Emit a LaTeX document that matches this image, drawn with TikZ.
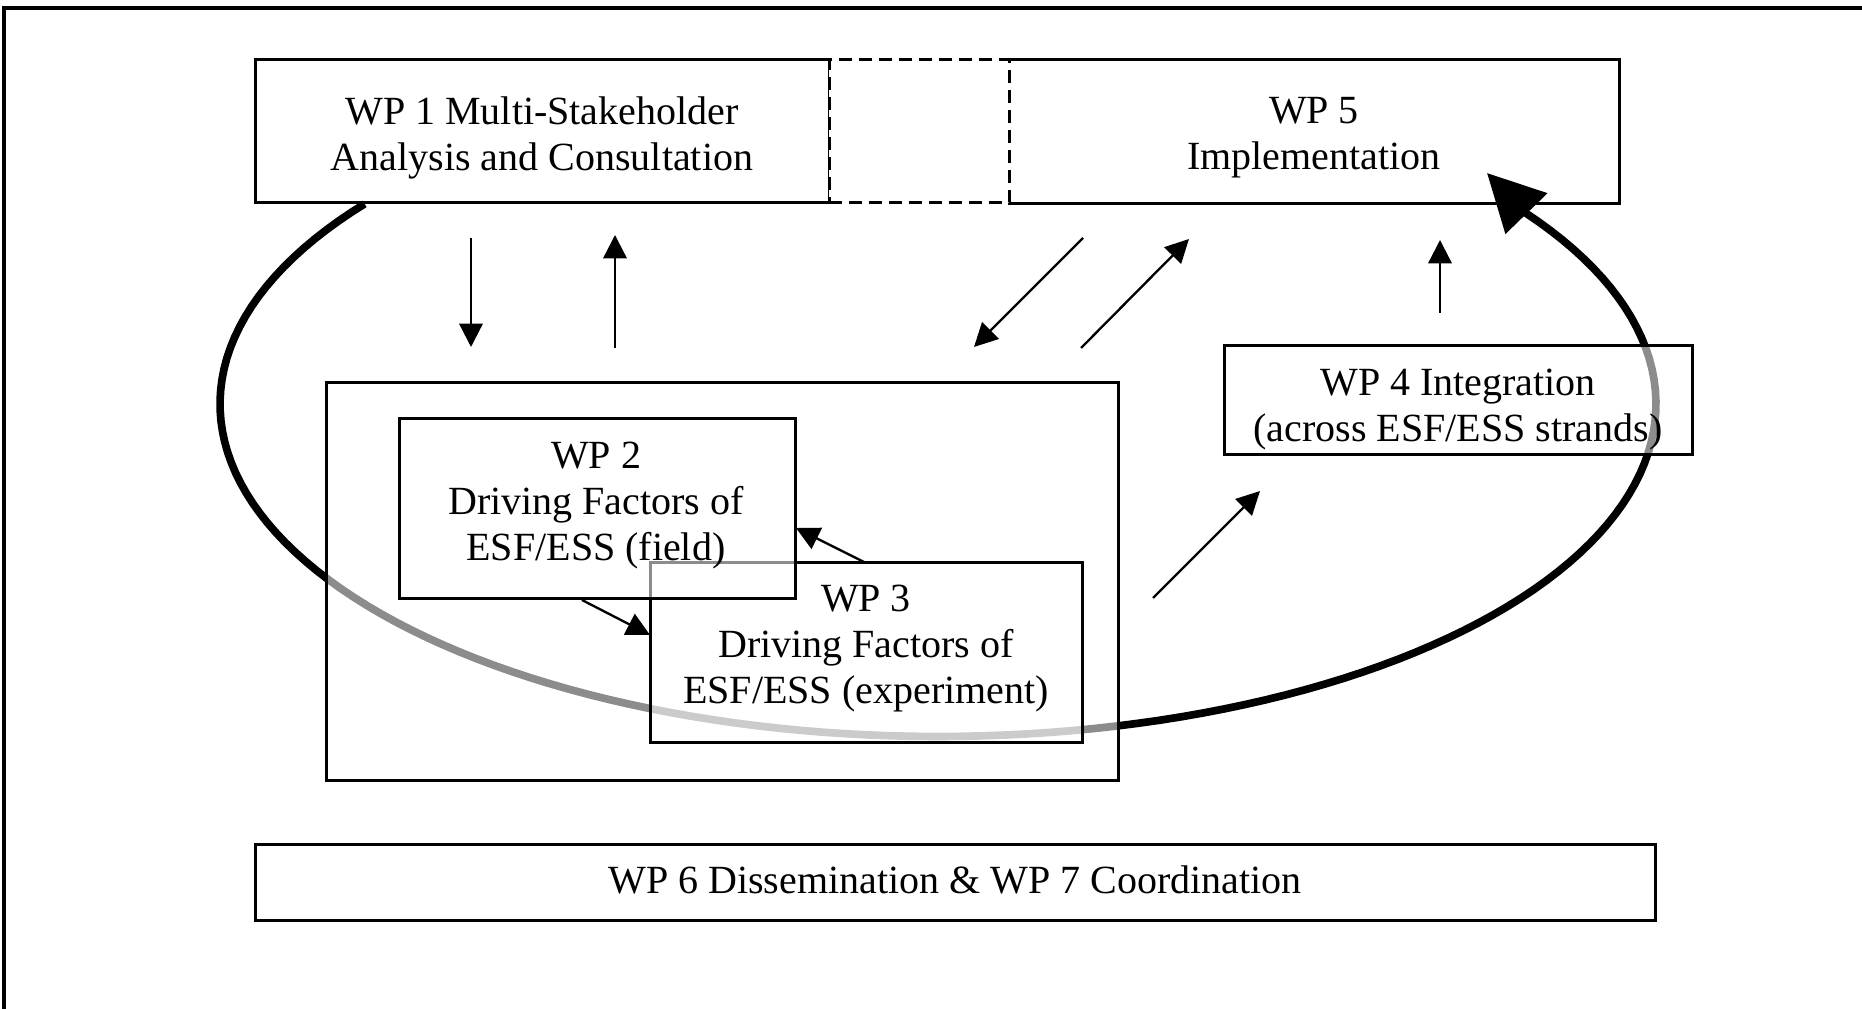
\documentclass[tikz,border=0pt]{standalone}
\usepackage{fontspec}
\setmainfont{Liberation Serif}
\usetikzlibrary{arrows.meta,fit}
\begin{document}
\begin{tikzpicture}[x=0.3pt,y=-0.3pt,
  box/.style={draw=black, line width=0.9pt, fill=white, inner sep=0pt},
  softbox/.style={draw=black, line width=0.9pt, fill=white, fill opacity=0.55, draw opacity=1, inner sep=0pt},
  lbl/.style={align=center, font=\fontsize{12}{13.8}\selectfont, inner sep=0pt},
  arr/.style={line width=0.7pt, -{Triangle[length=7pt,width=7pt]}},
  cyclearrow/.style={line width=2.3pt, -{Triangle[length=17pt,width=17pt]}},
  dashbox/.style={draw=black, line width=0.9pt, dash pattern=on 4pt off 2pt, fill=white, inner sep=0pt}]
\useasboundingbox (0,0) rectangle (1862,1009);

% outer frame (partly visible)
\draw[line width=1pt] (4,1009) -- (4,8) -- (1862,8);

% top row
\node[inner sep=0pt, fit={(1009,60)(1619,203)}] (wp5) {};
\draw[line width=0.9pt] (wp5.north west) -- (wp5.north east) -- (wp5.south east) -- (wp5.south west);
\node[box, fit={(255,60)(829,203)}] (wp1) {};
\node[dashbox, fit={(829,60)(1009,203)}] (mid) {};

% big cycle arrow
\coordinate (looptip) at (1487,173);
\draw[cyclearrow] plot[domain=143:395, samples=140] ({938+718*cos(\x)},{404-332.5*sin(\x)}) -- (looptip);

% middle boxes
\node[softbox, fit={(326,383)(1118,780)}] (big) {};
\node[softbox, fit={(650,563)(1082,742)}] (wp3) {};
\node[softbox, fit={(399,419)(795,599)}] (wp2) {};
\node[softbox, fit={(1224,346)(1692,455)}] (wp4) {};

% bottom box
\node[box, fit={(255,844)(1655,920)}] (wp67) {};

% texts
\node[lbl] (wp1t) at (542,138) {WP 1 Multi-Stakeholder\\Analysis and Consultation};
\node[lbl] (wp5t) at (1314,138) {WP 5\\Implementation};
\node[lbl] (wp4t) at (1458,410) {WP 4 Integration\\(across ESF/ESS strands)};
\node[lbl] (wp2t) at (596,506) {WP 2\\Driving Factors of\\ESF/ESS (field)};
\node[lbl] (wp3t) at (866,649) {WP 3\\Driving Factors of\\ESF/ESS (experiment)};
\node[lbl] (wp67t) at (955,880) {WP 6 Dissemination \& WP 7 Coordination};

% small arrows
\coordinate (a1s) at (471,238);  \coordinate (a1e) at (471,347);
\coordinate (a2s) at (615,348);  \coordinate (a2e) at (615,235);
\coordinate (a3s) at (1083,238); \coordinate (a3e) at (974,347);
\coordinate (a4s) at (1081,348); \coordinate (a4e) at (1189,239);
\coordinate (a5s) at (1440,313); \coordinate (a5e) at (1440,240);
\coordinate (a6s) at (864,562);  \coordinate (a6e) at (796,528);
\coordinate (a7s) at (582,600);  \coordinate (a7e) at (650,635);
\coordinate (a8s) at (1153,598); \coordinate (a8e) at (1260,491);
\draw[arr] (a1s) -- (a1e);
\draw[arr] (a2s) -- (a2e);
\draw[arr] (a3s) -- (a3e);
\draw[arr] (a4s) -- (a4e);
\draw[arr] (a5s) -- (a5e);
\draw[arr] (a6s) -- (a6e);
\draw[arr] (a7s) -- (a7e);
\draw[arr] (a8s) -- (a8e);
\end{tikzpicture}
\end{document}
